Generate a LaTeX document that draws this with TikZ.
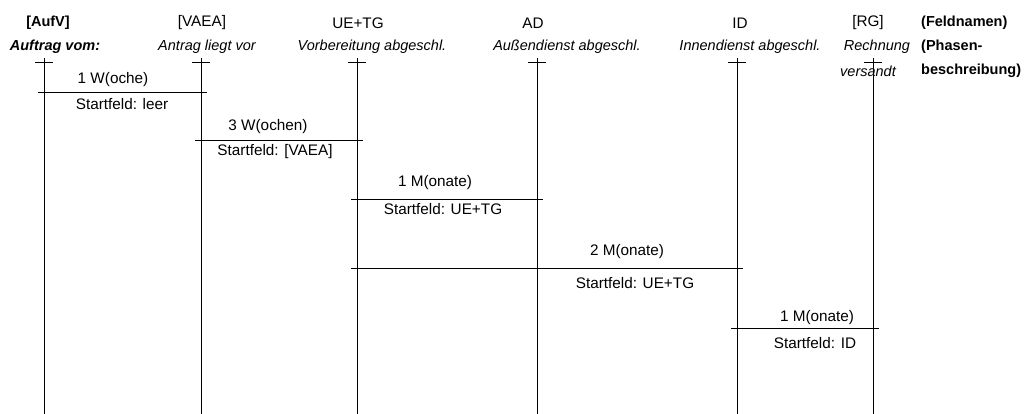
\documentclass[tikz,border=0pt]{standalone}
\usepackage{fontspec}
\setmainfont{Liberation Sans}
\begin{document}
\begin{tikzpicture}[x=1pt,y=-1pt,
  txt/.style={inner sep=0pt,font=\fontsize{14.5}{17}\selectfont},
  fname/.style={txt,font=\fontsize{15.3}{18}\selectfont},
  phase/.style={txt,font=\fontsize{14.5}{17}\selectfont\itshape},
  lane/.style={line width=1pt,draw=black},
  dur/.style={line width=1pt,draw=black},
  lbl/.style={txt,font=\fontsize{15.3}{18}\selectfont}]
\useasboundingbox (0,0) rectangle (1032,414);
% lanes
\foreach \n/\x in {1/44,2/201,3/357,4/537,5/737,6/873}{
  \coordinate (t\n) at (\x,58);
  \coordinate (b\n) at (\x,414);
  \coordinate (kl\n) at (\x-9,63);
  \coordinate (kr\n) at (\x+9,63);
  \draw[lane] (t\n) -- (b\n);
  \draw[lane] (kl\n) -- (kr\n);
}
% field names
\node[fname,font=\fontsize{14.5}{17}\selectfont\bfseries] (f1) at (48,23) {[AufV]};
\node[fname] (f2) at (202,23) {[VAEA]};
\node[fname] (f3) at (358,23) {UE+TG};
\node[fname] (f4) at (533,23) {AD};
\node[fname] (f5) at (740,23) {ID};
\node[fname] (f6) at (868,23) {[RG]};
\node[fname,font=\fontsize{14.5}{17}\selectfont\bfseries,anchor=west] (fn) at (921,23) {(Feldnamen)};
% phase descriptions
\node[phase,font=\fontsize{14.5}{17}\selectfont\bfseries\itshape] (p1) at (55,47) {Auftrag vom:};
\node[phase] (p2) at (207,47) {Antrag liegt vor};
\node[phase] (p3) at (372,47) {Vorbereitung abgeschl.};
\node[phase] (p4) at (567,47) {Außendienst abgeschl.};
\node[phase] (p5) at (750,47) {Innendienst abgeschl.};
\node[phase] (p6a) at (877,47) {Rechnung};
\node[phase] (p6b) at (868,71) {versandt};
\node[txt,font=\fontsize{14.5}{17}\selectfont\bfseries,anchor=west] (pn1) at (921,47) {(Phasen-};
\node[txt,font=\fontsize{14.5}{17}\selectfont\bfseries,anchor=west] (pn2) at (921,71) {beschreibung)};
% durations
\coordinate (d1a) at (38,93);  \coordinate (d1b) at (207,93);
\coordinate (d2a) at (195,141); \coordinate (d2b) at (363,141);
\coordinate (d3a) at (351,199); \coordinate (d3b) at (543,199);
\coordinate (d4a) at (351,268); \coordinate (d4b) at (743,268);
\coordinate (d5a) at (731,328); \coordinate (d5b) at (879,328);
\draw[dur] (d1a) -- (d1b);
\draw[dur] (d2a) -- (d2b);
\draw[dur] (d3a) -- (d3b);
\draw[dur] (d4a) -- (d4b);
\draw[dur] (d5a) -- (d5b);
\node[lbl] (l1a) at (113,80) {1 W(oche)};
\node[lbl] (l1b) at (122,104) {Startfeld: leer};
\node[lbl] (l2a) at (268,127) {3 W(ochen)};
\node[lbl] (l2b) at (275,152) {Startfeld: [VAEA]};
\node[lbl] (l3a) at (435,183) {1 M(onate)};
\node[lbl] (l3b) at (443,209) {Startfeld: UE+TG};
\node[lbl] (l4a) at (627,252) {2 M(onate)};
\node[lbl] (l4b) at (635,283) {Startfeld: UE+TG};
\node[lbl] (l5a) at (817,318) {1 M(onate)};
\node[lbl] (l5b) at (815,343) {Startfeld: ID};
\end{tikzpicture}
\end{document}
